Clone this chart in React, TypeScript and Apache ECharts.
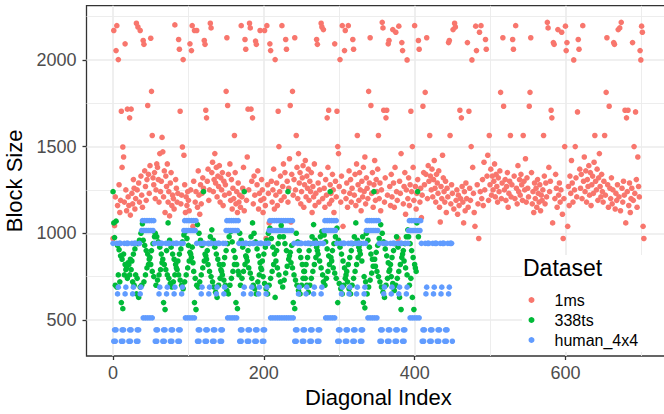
import React, { useEffect, useRef } from 'react';
import * as echarts from 'echarts';

const datasetNames = ['1ms', '338ts', 'human_4x4'];

// Block sizes by diagonal index (x = position in array)
const ms1Sizes = [
  970, 2170, 1044, 1210, 2054, 2198, 1160, 2002, 1280, 1120,
  1190, 1704, 1380, 1498, 1440, 1180, 2093, 1250, 1130, 1716,
  1210, 1160, 1666, 1105, 1716, 1230, 1170, 1310, 1260, 1140,
  1200, 2212, 1250, 2190, 1290, 1180, 2170, 1330, 1220, 1150,
  2112, 2090, 1360, 1270, 1190, 1310, 1737, 1340, 1230, 1390,
  2125, 1819, 1564, 1320, 1280, 1350, 1200, 1250, 1400, 1380,
  1310, 1180, 1460, 1240, 1300, 1553, 1470, 1210, 1360, 1120,
  1330, 1270, 1400, 1180, 1240, 1100, 1290, 1350, 1160, 1220,
  1200, 1140, 2202, 1310, 1260, 1180, 1230, 2118, 2062, 1704,
  1170, 1220, 1498, 2002, 1450, 1280, 1120, 1210, 1160, 1240,
  1190, 1130, 2093, 1250, 2054, 2198, 1040, 1300, 2170, 1180,
  1240, 2170, 1150, 1360, 1220, 1110, 1280, 1170, 1230, 1320,
  1260, 2112, 2090, 1710, 1666, 1300, 1370, 1190, 1250, 2212,
  2185, 1350, 1410, 1240, 1310, 1460, 1290, 1380, 1210, 1330,
  1270, 1390, 1180, 1320, 1250, 1350, 1160, 1300, 1220, 1280,
  1819, 2128, 1737, 1340, 1230, 1400, 1190, 1310, 1140, 1260,
  1200, 1564, 1350, 1170, 1240, 1120, 1290, 1180, 1220, 1150,
  2198, 1210, 1260, 1380, 1130, 2118, 2062, 1190, 1440, 1716,
  1250, 2212, 2185, 1716, 1300, 1666, 1170, 1330, 1220, 2109,
  2090, 1280, 1360, 1140, 1230, 2170, 1190, 1310, 1250, 1120,
  1200, 2170, 1160, 970, 2198, 1280, 1230, 1060, 2093, 2054,
  1300, 1180, 1250, 1370, 1140, 2002, 1220, 1290, 1160, 1704,
  1500, 1240, 1330, 1190, 2198, 1270, 1400, 1210, 1350, 2118,
  2062, 1300, 1180, 1260, 1430, 1737, 1065, 1340, 1819, 1220,
  1310, 2128, 1250, 1564, 1380, 1200, 1460, 1290, 1350, 1170,
  1240, 1320, 1390, 1150, 1280, 1420, 1210, 1330, 1260, 1370,
  1190, 1300, 1240, 1350, 1120, 1270, 1210, 1400, 1160, 1230,
  2118, 2090, 1290, 1180, 1250, 1340, 2212, 2190, 1200, 2175,
  1260, 1150, 1310, 1220, 1666, 1380, 1710, 1170, 1280, 1230,
  1190, 1340, 1250, 1120, 2093, 1300, 1210, 1704, 1500, 1460,
  1270, 2002, 1180, 1330, 2198, 1040, 1240, 2054, 2170, 1200,
  1290, 1150, 2198, 1360, 1230, 1310, 1180, 1260, 2118, 2062,
  1220, 1340, 1160, 1400, 1564, 1280, 1190, 1350, 1250, 1130,
  1300, 1210, 1380, 1240, 1440, 1170, 1320, 1260, 1200, 1819,
  1290, 2128, 1737, 1230, 1350, 1150, 1280, 1420, 1190, 1310,
  1240, 1370, 1564, 1200, 1290, 1130, 1250, 2217, 2185, 1710,
  1180, 1320, 1666, 1710, 1220, 2093, 2112, 1270, 1160, 1340,
  1210, 2175, 1290, 1150, 1380, 2160, 1240, 1190, 970, 2195,
  1300, 1230, 1460, 2100, 2054, 1170, 1270, 1350, 1110, 1250,
  2000, 1200, 1320, 1160, 1280, 1704, 1240, 1500, 1380, 1190,
  2198, 1270, 1140, 1230, 1310, 2112, 2062, 1180, 1260, 1090,
  1220, 1733, 1350, 1280, 1813, 1340, 2128, 1200, 1390, 1300,
  1564, 1330, 1250, 1370, 1210, 1310, 1420, 1260, 1180, 1340,
  1290, 1230, 1360, 1150, 1065, 1270, 1200, 1450, 1320, 1240,
  1180, 1300, 1120, 1260, 1210, 2100, 2112, 1564, 1170, 1280,
  1230, 2175, 1140, 2212, 2190, 1190, 1250, 1110, 1220, 1160,
  1710, 1200, 1666, 1270, 1180, 1060, 1240, 1130, 1290, 1200,
  2100, 1150, 1704, 1260, 1190, 1500, 2000, 1380, 1230, 1120,
  1040, 2195, 2054, 1280, 1170, 970, 2160, 1240, 2198, 1200,
  1310, 1160, 1410, 1250, 2118, 2062, 1330, 1450, 1190, 1564,
  1280, 1370, 1220, 1330, 1250, 1300, 1400, 1210, 1340, 1270,
  1180, 1320, 1240, 1360, 1813, 1200, 1290, 2128, 1733, 1250,
  1310, 1190, 1270, 1350, 1150, 1230, 1300, 1564, 1210, 1280,
  2118, 2062, 1330, 1200, 2198, 1260, 1170, 1390, 1240, 1310,
  1220, 1340, 1280, 1190, 1564, 1300, 1250, 1430, 1180, 1320,
  1260, 1210, 1733, 1813, 2128, 1350, 1170, 1240, 1120, 1290,
  1200, 1260, 1150, 1310, 1230, 1180, 1280, 1130, 1220, 1190,
  1250, 1564, 1330, 1170, 1290, 1210, 2217, 2185, 1380, 1240,
  1300, 1710, 1666, 1060, 2100, 2090, 1200, 1340, 1260, 1150,
  2175, 1220, 1290, 1180, 1250, 2160, 1110, 970, 1200, 1500,
  2195, 2054, 2100, 1040, 1270, 1160, 1330, 1230, 1420, 1290,
  1180, 2000, 1250, 1500, 1320, 1210, 1700, 2118, 2062, 1370,
  1260, 1340, 1200, 2198, 1300, 1440, 1240, 1360, 1180, 1310,
  1270, 1390, 1220, 1350, 1160, 1280, 1330, 1230, 1410, 1564,
  1300, 1250, 1370, 1190, 1320, 1460, 1270, 1210, 1340, 1240,
  1180, 1300, 1564, 1220, 1813, 2128, 1280, 1150, 1733, 1260,
  1200, 1320, 1170, 1250, 2100, 2090, 1140, 1230, 1190, 1280,
  2175, 1210, 2185, 1130, 2217, 1260, 1180, 1300, 1220, 1710,
  1060, 1666, 1240, 1710, 1160, 1290, 1120, 1200, 1260, 2100,
  1190, 1500, 1230, 1700, 1310, 1150, 1440, 1270, 1210, 2054,
  2000, 2195, 2160, 1040, 970,
];

const ts338Sizes = [
  1240, 1060, 975, 700, 1070, 690, 930, 760, 905, 720,
  870, 600, 850, 565, 880, 760, 820, 790, 800, 740,
  830, 820, 760, 850, 790, 840, 720, 880, 700, 910,
  760, 650, 740, 940, 630, 960, 690, 1000, 700, 1055,
  960, 720, 930, 760, 900, 800, 880, 820, 850, 860,
  820, 900, 780, 940, 750, 980,
  1000, 700, 980, 730, 950, 760, 920, 790, 880, 830,
  850, 600, 820, 560, 790, 900, 760, 1060, 740, 960,
  710, 920, 690, 880, 720, 850, 760, 820, 800, 790,
  840, 760, 880, 730, 910, 700, 950, 680, 990, 720,
  1010, 760, 970, 800, 930, 840, 890, 880, 860, 920,
  830, 780, 600, 740, 560, 700,
  1050, 690, 1000, 720, 960, 760, 930, 800, 1240, 840,
  880, 870, 850, 900, 820, 940, 780, 980, 750, 1020,
  720, 960, 690, 920, 660, 880, 630, 850, 700, 820,
  740, 790, 780, 760, 820, 730, 860, 700, 900, 670,
  940, 650, 980, 700, 1010, 740, 950, 780, 900, 820,
  860, 600, 820, 565, 780, 760,
  1000, 700, 960, 740, 920, 780, 1240, 820, 870, 860,
  840, 900, 800, 940, 770, 980, 740, 1060, 700, 1000,
  680, 950, 650, 910, 720, 870, 760, 830, 800, 790,
  840, 750, 880, 710, 920, 680, 960, 650, 1000, 700,
  1030, 740, 970, 780, 920, 820, 880, 630, 840, 900,
  800, 940, 760, 980, 720, 1045,
  1020, 690, 980, 730, 940, 770, 900, 810, 1240, 850,
  870, 890, 830, 930, 800, 600, 760, 565, 730, 1000,
  700, 950, 670, 900, 650, 860, 700, 820, 740, 780,
  780, 740, 820, 700, 860, 660, 900, 700, 940, 740,
  980, 780, 1050, 820, 960, 860, 920, 900, 880, 940,
  840, 980, 800, 1010, 760, 720,
  990, 700, 950, 740, 910, 780, 870, 820, 1240, 860,
  840, 900, 800, 940, 770, 980, 740, 1030, 600, 960,
  710, 920, 680, 880, 650, 840, 700, 800, 740, 760,
  780, 720, 820, 680, 860, 650, 900, 700, 940, 740,
  980, 780, 1060, 820, 960, 860, 920, 900, 880, 940,
  840, 980, 600, 750, 570, 720,
  1000, 650, 960, 690, 920, 730, 880, 770, 850, 810,
  1240, 850, 810, 890, 780, 930, 750, 970, 720, 1050,
  690, 1000, 660, 950, 630, 910, 700, 870, 740, 830,
  780, 790, 820, 750, 860, 710, 900, 670, 940, 700,
  980, 740, 920, 780, 630, 820, 560, 860, 880, 900,
  840, 940, 800, 980, 760, 1020,
  980, 700, 940, 740, 900, 630, 860, 560, 820, 800,
  780, 1060, 1240, 980,
];

const human4x4Sizes = [
  942, 377, 443, 377, 443, 942, 650, 689, 942, 942,
  942, 377, 443, 377, 443, 942, 650, 689, 942, 942,
  942, 377, 443, 377, 443, 942, 650, 689, 942, 942,
  942, 377, 443, 377, 443, 942, 650, 689,
  1016, 1073, 512, 1016, 1073, 512, 1016, 1073, 512, 1016, 1073, 512, 1016, 1073, 512, 1016, 1073,
  942, 377, 443, 377, 443, 942, 650, 689, 942, 942,
  942, 377, 443, 377, 443, 942, 650, 689, 942, 942,
  942, 377, 443, 377, 443, 942, 650, 689, 942, 942,
  942, 377, 443, 377, 443, 942, 650, 689, 942,
  1016, 1073, 512, 1016, 1073, 512, 1016, 1073, 512, 1016, 1073, 512, 1016, 1073, 512, 1016, 1073,
  942, 377, 443, 377, 443, 942, 650, 689, 942, 942,
  942, 377, 443, 377, 443, 942, 650, 689, 942, 942,
  942, 377, 443, 377, 443, 942, 650, 689, 942, 942,
  942, 377, 443, 377, 443, 942, 650, 689, 942,
  1016, 1073, 512, 1016, 1073, 512, 1016, 1073, 512, 1016, 1073, 512, 1016, 1073, 512, 1016, 1073,
  942, 377, 443, 377, 443, 942, 650, 689, 942, 942,
  942, 377, 443, 377, 443, 942, 650, 689, 942, 942,
  942, 377, 443, 377, 443, 942, 650, 689, 942, 942,
  942, 377, 443, 377, 443, 942, 650, 689, 942, 942,
  1016, 1073, 512, 1016, 1073, 512, 1016, 1073, 512, 1016, 1073, 512, 1016, 1073, 512,
  1016, 1073, 512, 1016, 1073, 512, 1016, 1073, 512, 1016, 1073, 512, 1016, 1073, 512,
  1016, 1073, 512,
  942, 377, 443, 377, 443, 942, 650, 689, 942, 942,
  942, 377, 443, 377, 443, 942, 650, 689, 942, 942,
  942, 377, 443, 377, 443, 942, 650, 689, 942, 942,
  942, 377, 443, 377, 443, 942, 650, 689, 942, 942,
  1016, 1073, 512, 1016, 1073, 512, 1016, 1073, 512, 1016, 1073, 512, 1016, 1073, 512, 1016, 1073,
  942, 377, 443, 377, 443, 942, 650, 689, 942, 942,
  942, 377, 443, 377, 443, 942, 650, 689, 942, 942,
  942, 377, 443, 377, 443, 942, 650, 689, 942, 942,
  942, 377, 443, 377, 443, 942, 650, 689, 942,
  1016, 1073, 512, 1016, 1073, 512, 1016, 1073, 512, 1016, 1073, 512, 1016, 1073, 512, 1016, 1073,
  942, 377, 443, 377, 443, 942, 650, 689, 942, 942,
  942, 377, 443, 377, 443, 942, 650, 689, 942, 942,
  942, 377, 443, 377, 443, 942, 650, 689, 942, 942,
  942, 377, 443, 377, 443, 942, 650, 689, 942,
  1016, 1073, 512, 1016, 1073, 512, 1016, 1073, 512, 1016, 1073, 512, 1016, 1073, 512, 1016, 1073,
  942, 377, 443, 377, 443, 942, 650, 689, 942, 942,
  942, 377, 443, 377, 443, 942, 650, 689, 942, 942,
  942, 377, 443, 377, 443, 942, 650, 689, 942, 942,
  942, 377, 443, 377, 443, 942, 650, 689, 942, 942,
  942, 377,
];

const xTickValues = [0, 200, 400, 600];
const xMinorValues = [100, 300, 500, 700];
const yTickValues = [500, 1000, 1500, 2000];
const yMinorValues = [750, 1250, 1750, 2250];

const X_MIN = -35.2;
const X_MAX = 739.2;
const Y_MIN = 292;
const Y_MAX = 2313;
const COLORS = ['#F8766D', '#00BA38', '#619CFF'];
const FONT = '"Liberation Sans", Arial, Helvetica, sans-serif';

export default function App() {
  const ref = useRef<HTMLDivElement>(null);

  useEffect(() => {
    document.body.style.margin = '0';
    document.body.style.overflow = 'hidden';
    const chart = echarts.init(ref.current as HTMLDivElement, null, { renderer: 'svg' });

    const vLines = (xs: number[]) => xs.map((x) => ({ coords: [[x, Y_MIN], [x, Y_MAX]] }));
    const hLines = (ys: number[]) => ys.map((y) => ({ coords: [[X_MIN, y], [X_MAX, y]] }));
    const gridSeries = (data: any[], width: number) => ({
      type: 'lines',
      coordinateSystem: 'cartesian2d',
      data,
      silent: true,
      z: 1,
      lineStyle: { color: '#EBEBEB', width, opacity: 1, curveness: 0 },
      emphasis: { disabled: true },
    });
    const scatter = (name: string, sizes: number[], color: string, z: number) => ({
      type: 'scatter',
      name,
      data: sizes.map((v, i) => [i, v]),
      symbol: 'circle',
      symbolSize: 5.6,
      itemStyle: { color, opacity: 1 },
      z,
      emphasis: { disabled: true },
    });

    const tickStyle = { color: '#333333', width: 1.3 };
    const plain = (v: number) => String(v);
    chart.setOption({
      animation: false,
      backgroundColor: '#ffffff',
      grid: {
        left: 86.5,
        right: -6.4,
        top: 5.7,
        bottom: 58,
        show: true,
        borderColor: '#333333',
        borderWidth: 1.3,
        backgroundColor: '#ffffff',
        containLabel: false,
        outerBoundsMode: 'none',
      },
      xAxis: {
        type: 'value',
        min: X_MIN,
        max: X_MAX,
        splitLine: { show: false },
        axisLine: { show: false, onZero: false },
        axisTick: { show: true, customValues: xTickValues, length: 4, lineStyle: tickStyle },
        axisLabel: {
          customValues: xTickValues,
          formatter: plain,
          margin: 8,
          fontSize: 18,
          color: '#4D4D4D',
          fontFamily: FONT,
        },
        name: 'Diagonal Index',
        nameLocation: 'middle',
        nameGap: 30,
        nameTextStyle: { fontSize: 22, color: '#000000', fontFamily: FONT },
      },
      yAxis: {
        type: 'value',
        min: Y_MIN,
        max: Y_MAX,
        splitLine: { show: false },
        axisLine: { show: false, onZero: false },
        axisTick: { show: true, customValues: yTickValues, length: 4, lineStyle: tickStyle },
        axisLabel: {
          customValues: yTickValues,
          formatter: plain,
          margin: 10,
          fontSize: 18,
          color: '#4D4D4D',
          fontFamily: FONT,
        },
        name: 'Block Size',
        nameLocation: 'middle',
        nameGap: 54,
        nameRotate: 90,
        nameTextStyle: { fontSize: 22, color: '#000000', fontFamily: FONT },
      },
      legend: {
        data: datasetNames,
        orient: 'vertical',
        left: 528.5,
        top: 290,
        itemWidth: 36,
        itemHeight: 6,
        itemGap: 0,
        icon: 'circle',
        padding: 0,
        selectedMode: false,
        z: 6,
        textStyle: { fontSize: 16, lineHeight: 20, color: '#000000', fontFamily: FONT },
      },
      graphic: [
        {
          type: 'rect',
          z: 2,
          silent: true,
          shape: { x: 522, y: 255, width: 150, height: 97 },
          style: { fill: '#ffffff' },
        },
        {
          type: 'text',
          z: 6,
          x: 523,
          y: 268,
          style: {
            text: 'Dataset',
            fontSize: 23,
            fill: '#000000',
            fontFamily: FONT,
            verticalAlign: 'middle',
          },
        },
      ],
      series: [
        gridSeries(hLines(yMinorValues).concat(vLines(xMinorValues)), 0.9),
        gridSeries(hLines(yTickValues).concat(vLines(xTickValues)), 1.6),
        scatter(datasetNames[0], ms1Sizes, COLORS[0], 3),
        scatter(datasetNames[1], ts338Sizes, COLORS[1], 4),
        scatter(datasetNames[2], human4x4Sizes, COLORS[2], 5),
      ],
    });

    return () => {
      chart.dispose();
    };
  }, []);

  return <div ref={ref} style={{ width: 664, height: 414 }} />;
}
